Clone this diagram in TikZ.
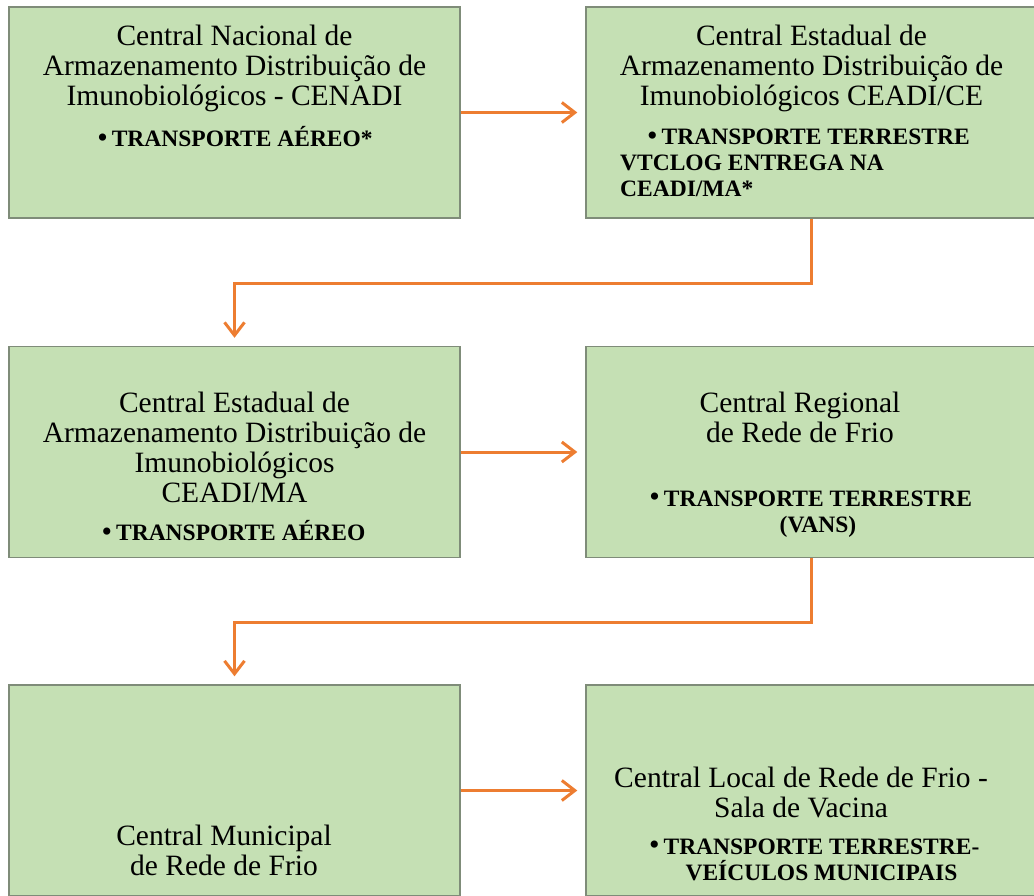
\documentclass[tikz,border=0pt]{standalone}
\usepackage{fontspec}
\setmainfont{Liberation Serif}
\usetikzlibrary{arrows.meta,calc}
\definecolor{BoxFill}{HTML}{C5E0B4}
\definecolor{BoxEdge}{HTML}{7F8C79}
\definecolor{Flow}{HTML}{ED7D31}
\newcommand{\Titulo}{\fontsize{29.5}{30}\selectfont}
\newcommand{\Modal}{\fontsize{23.5}{26}\selectfont\bfseries}
\newcommand{\Bul}{{\mdseries\raisebox{-0.5pt}{\fontsize{30}{26}\selectfont\textbullet}}\hspace{4pt}}

\begin{document}
\begin{tikzpicture}[x=1pt,y=-1pt,
  etapa/.style={draw=BoxEdge,fill=BoxFill,line width=1.4pt,minimum width=451pt,minimum height=211pt,inner sep=0pt},
  rotulo/.style={align=center,inner sep=0pt,font=\Titulo},
  modal/.style={align=center,inner sep=0pt,font=\Modal},
  fluxo/.style={draw=Flow,line width=3pt,-{Straight Barb[length=13pt,width=20pt]},shorten >=8pt}]
\useasboundingbox (0,0) rectangle (1034,896);
% caixas
\node[etapa] (cenadi) at (234.5,112.5) {};
\node[etapa] (ceadice) at (811.5,112.5) {};
\node[etapa] (ceadima) at (234.5,452) {};
\node[etapa] (regional) at (811.5,452) {};
\node[etapa] (municipal) at (234.5,790.5) {};
\node[etapa] (local) at (811.5,790.5) {};
% textos
\node[rotulo] (cenadi-t) at (234.5,68) {Central Nacional de\\Armazenamento Distribuição de\\Imunobiológicos - CENADI};
\node[modal] (cenadi-m) at (235,137) {\Bul TRANSPORTE AÉREO*};
\node[rotulo] (ceadice-t) at (811.5,68) {Central Estadual de\\Armazenamento Distribuição de\\Imunobiológicos CEADI/CE};
\node[modal,align=left,anchor=west] (ceadice-m) at (620,163) {\hspace*{27pt}\Bul TRANSPORTE TERRESTRE\\VTCLOG ENTREGA NA\\CEADI/MA*};
\node[rotulo] (ceadima-t) at (234.5,447.5) {Central Estadual de\\Armazenamento Distribuição de\\Imunobiológicos\\CEADI/MA};
\node[modal] (ceadima-m) at (233.5,531) {\Bul TRANSPORTE AÉREO};
\node[rotulo] (regional-t) at (800,417) {Central Regional\\de Rede de Frio};
\node[modal] (regional-m) at (818,514) {\llap{\Bul}TRANSPORTE TERRESTRE\\(VANS)};
\node[rotulo] (municipal-t) at (224,850.5) {Central Municipal\\de Rede de Frio};
\node[rotulo] (local-t) at (801,792) {Central Local de Rede de Frio -\\Sala de Vacina};
\node[modal] (local-m) at (821.5,859.5) {\llap{\Bul}TRANSPORTE TERRESTRE-\\VEÍCULOS MUNICIPAIS};
% setas
\draw[fluxo] (cenadi.east) -- (ceadice.west);
\draw[fluxo] (ceadima.east) -- (regional.west);
\draw[fluxo] (municipal.east) -- (local.west);
\draw[fluxo] (ceadice.south) -- ++(0,65) -| (ceadima.north);
\draw[fluxo] (regional.south) -- ++(0,64) -| (municipal.north);
\end{tikzpicture}
\end{document}
